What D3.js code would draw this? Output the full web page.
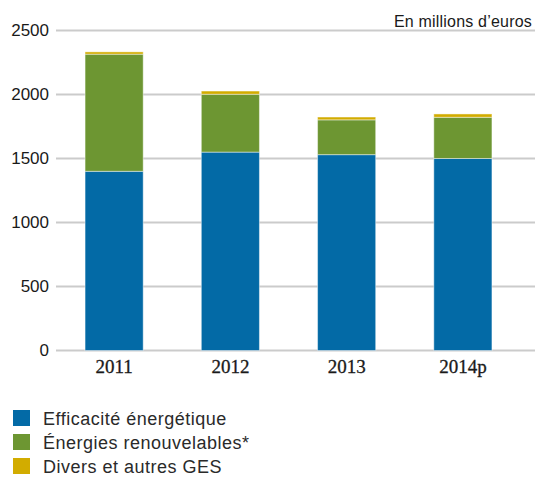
<!DOCTYPE html>
<html>
<head>
<meta charset="utf-8">
<script src="https://cdn.jsdelivr.net/npm/d3@7"></script>
<style>
  body { margin: 0; background: #fff; }
  svg { display: block; }
</style>
</head>
<body>
<svg></svg>
<script>
const width = 535;
const height = 477;

// données (en millions d'euros)
const years = ["2011", "2012", "2013", "2014p"];
const efficacite = [1400, 1550, 1530, 1500];
const renouvelables = [915, 452, 272, 322];
const divers = [18, 25, 22, 26];
const seriesNames = ["Efficacité énergétique", "Énergies renouvelables*", "Divers et autres GES"];
const colors = ["#036aa6", "#6d9632", "#d2ac00"];
const yTicks = [0, 500, 1000, 1500, 2000, 2500];

let svg = d3.select("svg")
    .attr("width", width)
    .attr("height", height);

const rows = years.map((y, i) => ({
  year: y,
  eff: efficacite[i],
  ren: renouvelables[i],
  div: divers[i]
}));

const stack = d3.stack().keys(["eff", "ren", "div"]);
const layers = stack(rows);

const scaleX = d3.scaleBand()
    .domain(years)
    .range([56, 521])
    .paddingInner(0.5)
    .paddingOuter(0.25);

const scaleY = d3.scaleLinear()
    .domain([0, 2500])
    .range([350.5, 30.5]);

// grille horizontale
svg.append("g")
  .selectAll("line")
  .data(yTicks)
  .enter()
  .append("line")
  .attr("x1", 56)
  .attr("x2", width)
  .attr("y1", d => scaleY(d))
  .attr("y2", d => scaleY(d))
  .attr("stroke", "#cbcbcb")
  .attr("stroke-width", 2);

// axe Y (texte seulement)
let axisY = svg.append("g")
  .attr("transform", "translate(49, 0)")
  .call(d3.axisLeft(scaleY).tickValues(yTicks).tickFormat(d3.format("d")).tickSize(0).tickPadding(0));
axisY.select(".domain").remove();
axisY.selectAll("text")
  .attr("font-family", "Liberation Sans, Arial, sans-serif")
  .attr("font-size", 17)
  .attr("fill", "#1a1a1a");

// barres empilées
svg.append("g")
  .selectAll("g")
  .data(layers)
  .enter()
  .append("g")
  .attr("fill", (d, i) => colors[i])
  .selectAll("rect")
  .data(d => d)
  .enter()
  .append("rect")
  .attr("x", d => scaleX(d.data.year))
  .attr("width", scaleX.bandwidth())
  .attr("y", d => scaleY(d[1]))
  .attr("height", d => scaleY(d[0]) - scaleY(d[1]))
  .attr("stroke", "rgba(255,255,255,0.45)")
  .attr("stroke-width", 1);

// axe X (texte seulement)
let axisX = svg.append("g")
  .attr("transform", "translate(0, 359)")
  .call(d3.axisBottom(scaleX).tickSize(0).tickPadding(0));
axisX.select(".domain").remove();
axisX.selectAll("text")
  .attr("dy", "0.71em")
  .attr("font-family", "Liberation Serif, Times New Roman, serif")
  .attr("font-size", 19)
  .attr("fill", "#1a1a1a")
  .attr("stroke", "#1a1a1a")
  .attr("stroke-width", 0.3);

// unité
svg.append("text")
  .attr("x", 532)
  .attr("y", 27)
  .attr("text-anchor", "end")
  .attr("font-family", "Liberation Sans, Arial, sans-serif")
  .attr("font-size", 16)
  .attr("letter-spacing", 0.2)
  .attr("fill", "#1a1a1a")
  .text("En millions d’euros");

// légende
let legend = svg.append("g")
  .selectAll("g")
  .data(seriesNames)
  .enter()
  .append("g")
  .attr("transform", (d, i) => `translate(13, ${410 + i * 24})`);

legend.append("rect")
  .attr("width", 17)
  .attr("height", 16)
  .attr("fill", (d, i) => colors[i]);

legend.append("text")
  .attr("x", 30)
  .attr("y", 15)
  .attr("font-family", "Liberation Sans, Arial, sans-serif")
  .attr("font-size", 18)
  .attr("letter-spacing", 0.5)
  .attr("fill", "#2a2a2a")
  .text(d => d);
</script>
</body>
</html>
